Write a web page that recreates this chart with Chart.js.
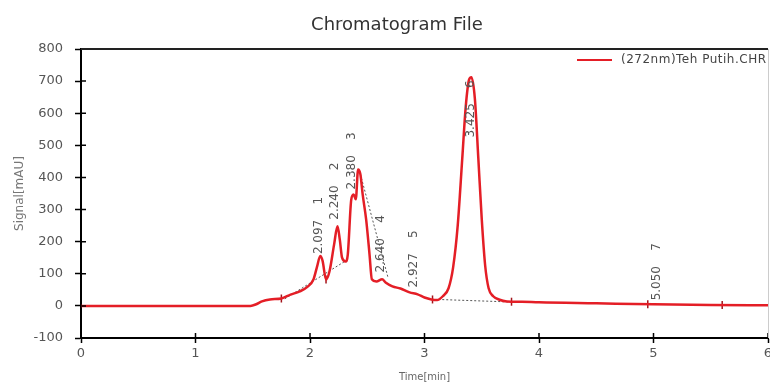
<!DOCTYPE html>
<html>
<head>
<meta charset="utf-8">
<script src="https://cdn.jsdelivr.net/npm/chart.js@4/dist/chart.umd.min.js"></script>
<style>
  body { margin: 0; background: #fff; }
  canvas { display: block; }
</style>
</head>
<body>
<canvas id="chrom" width="770" height="383"></canvas>
<script>
// signal trace (min, mAU)
const times = [0, 1.0, 1.48, 1.53, 1.58, 1.65, 1.75, 1.83, 1.91, 1.98,
  2.03, 2.06, 2.09, 2.11, 2.14, 2.17, 2.21, 2.24, 2.26, 2.28,
  2.31, 2.33, 2.36, 2.38, 2.40, 2.42, 2.44, 2.46, 2.49, 2.52,
  2.54, 2.58, 2.63, 2.66, 2.72, 2.79, 2.87, 2.94, 3.0, 3.06,
  3.11, 3.16, 3.21, 3.25, 3.29, 3.33, 3.36, 3.39, 3.41, 3.44,
  3.47, 3.50, 3.53, 3.56, 3.60, 3.65, 3.72, 3.85, 4.0, 4.5,
  5.0, 5.5, 6.0];
const signal = [0, 0, 0, 5, 14, 20, 23, 35, 45, 60,
  82, 120, 155, 140, 82, 107, 190, 248, 207, 150,
  138, 160, 330, 347, 332, 425, 410, 347, 270, 160,
  83, 76, 83, 73, 61, 54, 42, 36, 26, 20,
  18, 30, 55, 120, 250, 460, 620, 705, 712, 645,
  460, 270, 125, 55, 30, 20, 14, 13, 11, 8,
  5, 3, 2];

// peak table
const peakTimes = [2.097, 2.240, 2.380, 2.640, 2.927, 3.425, 5.050];
const peakNums = ['1', '2', '3', '4', '5', '6', '7'];
const peakLabelBase = [155, 262, 356, 98, 51, 518, 11];

// integration marks and baselines
const markTimes = [1.75, 2.14, 3.07, 3.76, 4.95, 5.6];
const markValues = [23, 82, 20, 13, 5, 3];
const baseStart = [[1.78, 22], [2.44, 410], [3.12, 20]];
const baseEnd = [[2.31, 140], [2.68, 90], [3.77, 12]];

const xTicks = [0, 1, 2, 3, 4, 5, 6];
const yTicks = [-100, 0, 100, 200, 300, 400, 500, 600, 700, 800];

const chartTitle = 'Chromatogram File';
const legendLabel = '(272nm)Teh Putih.CHR';
const FONT = 'DejaVu Sans';
const RED = '#e41e26';

const baselineSets = baseStart.map((s, i) => ({
  data: [{ x: s[0], y: s[1] }, { x: baseEnd[i][0], y: baseEnd[i][1] }],
  borderColor: '#555',
  borderWidth: 1,
  borderDash: [2, 2],
  pointRadius: 0,
  fill: false
}));

const noPad = s => {
  s.height = 45;
  s.paddingLeft = 0;
  s.paddingRight = 0;
};

// title, peak labels, tick stubs, frame and the in-plot legend
const extras = {
  id: 'extras',
  afterDraw(chart) {
    const { ctx, chartArea: a, scales: { x, y } } = chart;
    ctx.save();
    // title (slightly right of the canvas centre, as in the original)
    ctx.fillStyle = '#333';
    ctx.font = '18px "' + FONT + '"';
    ctx.textAlign = 'center';
    ctx.textBaseline = 'middle';
    ctx.fillText(chartTitle, 397, 25);

    // inward tick stubs
    ctx.strokeStyle = '#000';
    ctx.lineWidth = 1.5;
    ctx.beginPath();
    xTicks.forEach(v => {
      const px = x.getPixelForValue(v);
      ctx.moveTo(px, a.bottom); ctx.lineTo(px, a.bottom - 5);
    });
    yTicks.forEach(v => {
      const py = y.getPixelForValue(v);
      ctx.moveTo(a.left, py); ctx.lineTo(a.left + 5, py);
    });
    ctx.stroke();
    // top border
    ctx.lineWidth = 2;
    ctx.strokeStyle = '#222';
    ctx.beginPath();
    ctx.moveTo(a.left, a.top); ctx.lineTo(a.right, a.top);
    ctx.stroke();
    ctx.lineWidth = 1;
    ctx.strokeStyle = '#ccc';
    ctx.beginPath();
    ctx.moveTo(a.right + 0.5, a.top); ctx.lineTo(a.right + 0.5, a.bottom);
    ctx.stroke();

    // peak labels (rotated)
    ctx.fillStyle = '#555';
    ctx.font = '12px "' + FONT + '"';
    ctx.textAlign = 'left';
    ctx.textBaseline = 'alphabetic';
    peakTimes.forEach((t, i) => {
      ctx.save();
      ctx.translate(x.getPixelForValue(t) + 1, y.getPixelForValue(peakLabelBase[i]) - 2);
      ctx.rotate(-Math.PI / 2);
      ctx.fillText(t.toFixed(3) + '    ' + peakNums[i], 0, 0);
      ctx.restore();
    });

    // legend
    const ly = a.top + 11;
    ctx.strokeStyle = RED;
    ctx.lineWidth = 2;
    ctx.beginPath();
    ctx.moveTo(a.right - 191, ly); ctx.lineTo(a.right - 156, ly);
    ctx.stroke();
    ctx.fillStyle = '#444';
    ctx.font = '12px "' + FONT + '"';
    ctx.letterSpacing = '0.5px';
    ctx.textBaseline = 'middle';
    ctx.fillText(legendLabel, a.right - 147, ly);
    ctx.restore();
  }
};

new Chart(document.getElementById('chrom').getContext('2d'), {
  type: 'line',
  data: {
    datasets: [
      {
        label: legendLabel,
        data: times.map((t, i) => ({ x: t, y: signal[i] })),
        borderColor: RED,
        borderWidth: 2.5,
        pointRadius: 0,
        cubicInterpolationMode: 'monotone',
        fill: false
      },
      {
        type: 'scatter',
        data: markTimes.map((t, i) => ({ x: t, y: markValues[i] })),
        pointStyle: 'line',
        rotation: 90,
        radius: 4,
        borderColor: '#a3141b',
        borderWidth: 1.5
      },
      ...baselineSets
    ]
  },
  options: {
    responsive: false,
    animation: false,
    layout: { autoPadding: false, padding: { left: 0, right: 2, top: 49, bottom: 0 } },
    plugins: {
      legend: { display: false },
      tooltip: { enabled: false },
      title: { display: false }
    },
    scales: {
      x: {
        type: 'linear',
        min: 0,
        max: 6,
        afterFit: noPad,
        afterBuildTicks: s => { s.ticks = xTicks.map(v => ({ value: v })); },
        ticks: { color: '#555', font: { family: FONT, size: 13 }, padding: 3 },
        grid: { drawOnChartArea: false, tickLength: 5, tickColor: '#000', tickWidth: 1.5 },
        border: { color: '#000', width: 2 },
        title: { display: true, text: 'Time[min]', color: '#666', font: { family: FONT, size: 10 }, padding: { top: 0, bottom: 0 } }
      },
      y: {
        min: -100,
        max: 800,
        afterFit: s => { s.width = 81; },
        afterBuildTicks: s => { s.ticks = yTicks.map(v => ({ value: v })); },
        ticks: { color: '#555', font: { family: FONT, size: 13 }, padding: 12 },
        grid: { drawOnChartArea: false, tickLength: 6, tickColor: '#000', tickWidth: 1.5 },
        border: { color: '#000', width: 2 },
        title: { display: true, text: 'Signal[mAU]', color: '#777', font: { family: FONT, size: 12 }, padding: { top: 13, bottom: 0 } }
      }
    }
  },
  plugins: [extras]
});
</script>
</body>
</html>
